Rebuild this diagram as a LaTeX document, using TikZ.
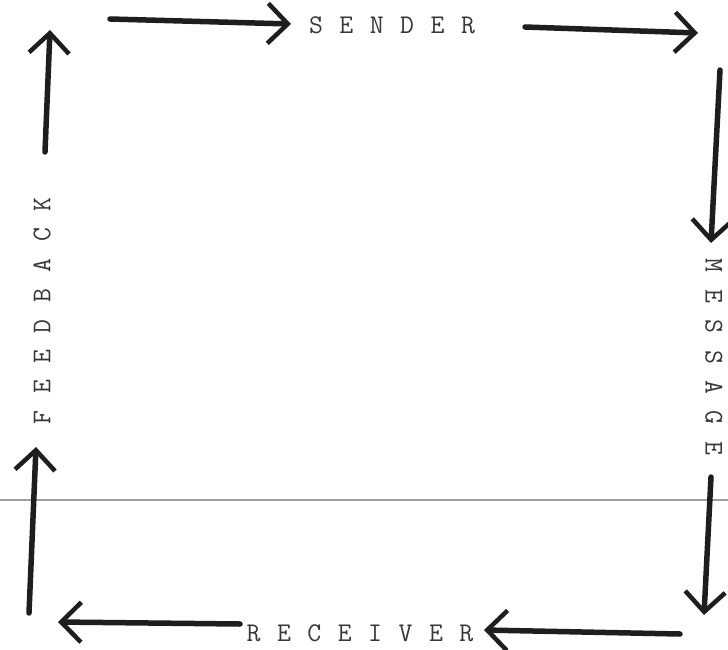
\documentclass[tikz,border=0pt]{standalone}
\usepackage{fontspec}
\usetikzlibrary{arrows.meta}
\definecolor{ink}{HTML}{1E1E1E}
\definecolor{type}{HTML}{383838}
\newcommand\lgap{\hspace{16.5pt}}
\tikzset{
  arr/.style={draw=ink, line width=5.5pt, line cap=round,
    -{Straight Barb[length=20pt, width=40pt, line width=4.5pt]}},
  lbl/.style={text=type, font=\ttfamily\fontsize{27}{27}\selectfont, inner sep=0pt},
}
\begin{document}
\begin{tikzpicture}[x=1pt, y=-1pt]
\useasboundingbox (0,0) rectangle (728,650);
\fill[white] (0,0) rectangle (728,650);
% gray scan line
\draw[gray!75, line width=2pt] (0,500) -- (728,500);
% labels
\node[lbl] (sender) at (392,25) {S\lgap E\lgap N\lgap D\lgap E\lgap R};
\node[lbl] (receiver) at (360,633) {R\lgap E\lgap C\lgap E\lgap I\lgap V\lgap E\lgap R};
\node[lbl, rotate=90] (feedback) at (42,311) {F\lgap E\lgap E\lgap D\lgap B\lgap A\lgap C\lgap K};
\node[lbl, rotate=-90] (message) at (714,357) {M\lgap E\lgap S\lgap S\lgap A\lgap G\lgap E};
% arrow end points
\coordinate (a1) at (110,19);
\coordinate (a2) at (291,24);
\coordinate (b1) at (525,27);
\coordinate (b2) at (698,33);
\coordinate (c1) at (720,70);
\coordinate (c2) at (711,243);
\coordinate (d1) at (711,477);
\coordinate (d2) at (704,615);
\coordinate (e1) at (680,634);
\coordinate (e2) at (484,630);
\coordinate (f1) at (240,624);
\coordinate (f2) at (58,622);
\coordinate (g1) at (29,613);
\coordinate (g2) at (36,447);
\coordinate (h1) at (45,152);
\coordinate (h2) at (50,30);
% arrows
\draw[arr] (a1) -- (a2);
\draw[arr] (b1) -- (b2);
\draw[arr] (c1) -- (c2);
\draw[arr] (d1) -- (d2);
\draw[arr] (e1) -- (e2);
\draw[arr] (f1) -- (f2);
\draw[arr] (g1) -- (g2);
\draw[arr] (h1) -- (h2);
\end{tikzpicture}
\end{document}
